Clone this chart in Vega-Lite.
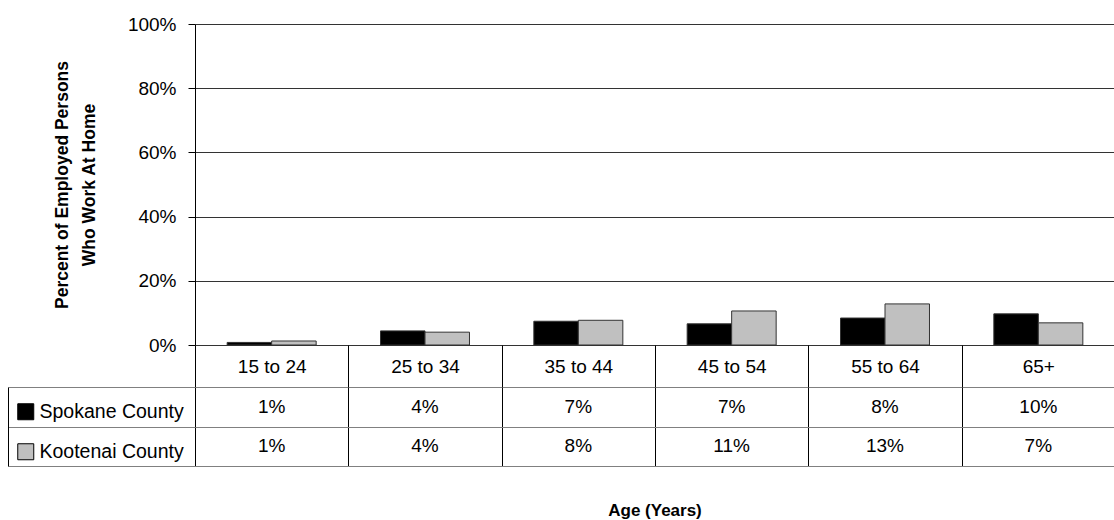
{
  "$schema": "https://vega.github.io/schema/vega-lite/v6.json",
  "padding": {"left": 7, "top": 15, "right": 0, "bottom": 0},
  "background": "#ffffff",
  "config": {
    "font": "Liberation Sans",
    "view": {"stroke": null},
    "axis": {"labelFont": "Liberation Sans", "titleFont": "Liberation Sans"},
    "legend": {"labelFont": "Liberation Sans"}
  },
  "data": {
    "values": [
      {"age": "15 to 24", "series": "Spokane County", "value": 0.008},
      {"age": "15 to 24", "series": "Kootenai County", "value": 0.0125},
      {"age": "25 to 34", "series": "Spokane County", "value": 0.044},
      {"age": "25 to 34", "series": "Kootenai County", "value": 0.040},
      {"age": "35 to 44", "series": "Spokane County", "value": 0.074},
      {"age": "35 to 44", "series": "Kootenai County", "value": 0.077},
      {"age": "45 to 54", "series": "Spokane County", "value": 0.066},
      {"age": "45 to 54", "series": "Kootenai County", "value": 0.106},
      {"age": "55 to 64", "series": "Spokane County", "value": 0.084},
      {"age": "55 to 64", "series": "Kootenai County", "value": 0.128},
      {"age": "65+", "series": "Spokane County", "value": 0.097},
      {"age": "65+", "series": "Kootenai County", "value": 0.069}
    ]
  },
  "bounds": "flush",
  "spacing": 42,
  "resolve": {"scale": {"color": "independent"}, "legend": {"color": "independent"}},
  "vconcat": [
    {
      "width": 920,
      "height": 321,
      "mark": {"type": "bar", "stroke": "#333333", "strokeWidth": 1},
      "encoding": {
        "x": {
          "field": "age", "type": "nominal",
          "sort": ["15 to 24", "25 to 34", "35 to 44", "45 to 54", "55 to 64", "65+"],
          "scale": {"paddingInner": 0, "paddingOuter": 0},
          "axis": null
        },
        "xOffset": {
          "field": "series", "type": "nominal",
          "sort": ["Spokane County", "Kootenai County"],
          "scale": {"paddingInner": 0, "paddingOuter": 0.723}
        },
        "y": {
          "field": "value", "type": "quantitative",
          "scale": {"domain": [0, 1]},
          "axis": {
            "values": [0, 0.2, 0.4, 0.6, 0.8, 1],
            "format": ".0%",
            "grid": true, "gridColor": "#333333", "gridWidth": 1,
            "domainColor": "#000000", "tickColor": "#000000", "tickSize": 7,
            "labelPadding": 12, "labelFontSize": 19, "labelColor": "#000000",
            "title": ["Percent of Employed Persons", "Who Work At Home"],
            "titleFontSize": 17.5, "titleFontWeight": "bold", "titleColor": "#000000",
            "titlePadding": 29, "titleLineHeight": 27
          }
        },
        "color": {
          "field": "series", "type": "nominal",
          "sort": ["Spokane County", "Kootenai County"],
          "scale": {"range": ["#000000", "#c0c0c0"]},
          "legend": null
        }
      }
    },
    {
      "width": 920,
      "height": 79,
      "title": {"text": "Age (Years)", "orient": "bottom", "anchor": "middle", "fontSize": 17, "fontWeight": "bold", "color": "#000000", "offset": 36, "font": "Liberation Sans"},
      "encoding": {
        "x": {
          "field": "age", "type": "nominal",
          "sort": ["15 to 24", "25 to 34", "35 to 44", "45 to 54", "55 to 64", "65+"],
          "scale": {"paddingInner": 0, "paddingOuter": 0},
          "axis": {
            "orient": "top", "title": null, "domain": false,
            "ticks": true, "tickSize": 42, "tickColor": "#000000", "tickBand": "extent",
            "grid": true, "gridColor": "#000000",
            "labelPadding": -21, "labelBaseline": "middle", "labelAngle": 0,
            "labelFontSize": 19, "labelColor": "#000000"
          }
        },
        "y": {
          "field": "series", "type": "nominal",
          "sort": ["Spokane County", "Kootenai County"],
          "scale": {"paddingInner": 0, "paddingOuter": 0},
          "axis": {
            "orient": "left", "offset": 187, "title": null, "labels": false,
            "domain": true, "domainColor": "#000000",
            "ticks": true, "tickSize": -187, "tickColor": "#808080", "tickBand": "extent",
            "grid": true, "gridColor": "#808080"
          }
        }
      },
      "layer": [
        {
          "mark": {"type": "square", "opacity": 0},
          "encoding": {
            "color": {
              "field": "series", "type": "nominal",
              "sort": ["Spokane County", "Kootenai County"],
              "scale": {"range": ["#000000", "#c0c0c0"]},
              "legend": {
                "orient": "none", "legendX": -179, "legendY": 15,
                "title": null, "symbolType": "square", "symbolSize": 256,
                "symbolStrokeColor": "#000000", "symbolStrokeWidth": 1, "symbolOpacity": 1,
                "labelFontSize": 19.5, "labelColor": "#000000", "labelOffset": 4,
                "rowPadding": 19, "padding": 0
              }
            }
          }
        },
        {
          "mark": {"type": "text", "fontSize": 19, "color": "#000000"},
          "encoding": {
            "text": {"field": "value", "type": "quantitative", "format": ".0%"}
          }
        }
      ]
    }
  ]
}
